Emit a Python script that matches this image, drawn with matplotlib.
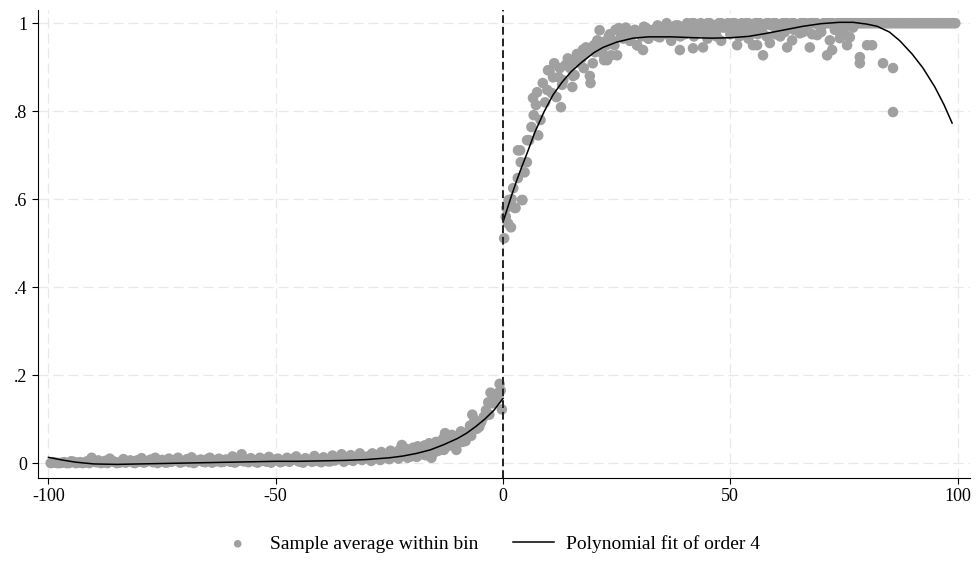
import numpy as np
import matplotlib
matplotlib.use("Agg")
import matplotlib.pyplot as plt

plt.rcParams["font.family"] = ["Liberation Serif", "DejaVu Serif"]

# binned sample averages, left of cutoff (1-unit bins, two offsets)
left_x = np.arange(-99.5, -30, 1.0)
left_y = [0.000, 0.001, 0.000, 0.002, 0.000, 0.003, 0.001, 0.000, 0.004, 0.012,
          0.002, 0.000, 0.005, 0.010, 0.003, 0.001, 0.009, 0.004, 0.002, 0.006,
          0.011, 0.003, 0.008, 0.012, 0.004, 0.002, 0.010, 0.005, 0.012, 0.003,
          0.009, 0.013, 0.004, 0.008, 0.002, 0.012, 0.006, 0.010, 0.003, 0.007,
          0.015, 0.004, 0.020, 0.006, 0.011, 0.003, 0.012, 0.008, 0.014, 0.005,
          0.010, 0.004, 0.012, 0.007, 0.015, 0.003, 0.011, 0.006, 0.016, 0.008,
          0.013, 0.004, 0.017, 0.009, 0.020, 0.007, 0.018, 0.010, 0.022, 0.012]
left2_x = np.arange(-99.0, -30, 1.0)
left2_y = [0.002, 0.000, 0.001, 0.000, 0.004, 0.000, 0.002, 0.001, 0.000, 0.003,
           0.006, 0.001, 0.000, 0.004, 0.000, 0.002, 0.001, 0.006, 0.000, 0.003,
           0.001, 0.005, 0.002, 0.000, 0.007, 0.001, 0.003, 0.008, 0.001, 0.005,
           0.002, 0.000, 0.006, 0.003, 0.009, 0.001, 0.004, 0.002, 0.008, 0.003,
           0.001, 0.006, 0.004, 0.002, 0.007, 0.001, 0.005, 0.003, 0.001, 0.008,
           0.002, 0.006, 0.003, 0.010, 0.004, 0.001, 0.007, 0.003, 0.005, 0.002,
           0.009, 0.004, 0.006, 0.012, 0.003, 0.008, 0.005, 0.014, 0.007]

# left of cutoff, close to it (0.5-unit bins)
near_left_x = np.arange(-29.75, 0, 0.5)
near_left_y = [0.015, 0.008, 0.022, 0.012, 0.018, 0.010, 0.025, 0.014, 0.020, 0.011,
               0.028, 0.016, 0.022, 0.013, 0.030, 0.041, 0.018, 0.032, 0.025, 0.015,
               0.035, 0.022, 0.038, 0.028, 0.020, 0.040, 0.030, 0.045, 0.012, 0.035,
               0.048, 0.028, 0.042, 0.055, 0.068, 0.038, 0.060, 0.064, 0.045, 0.030,
               0.058, 0.072, 0.065, 0.050, 0.070, 0.085, 0.110, 0.098, 0.078, 0.082,
               0.095, 0.105, 0.120, 0.138, 0.160, 0.136, 0.150, 0.145, 0.180, 0.122]
near_left2_x = [-29.0, -27.0, -25.0, -23.0, -21.0, -19.0, -17.0, -15.0, -13.0, -11.0,
                -9.0, -7.0, -5.0, -3.0, -1.0, -0.5]
near_left2_y = [0.005, 0.007, 0.009, 0.010, 0.012, 0.014, 0.018, 0.025, 0.030, 0.040,
                0.048, 0.062, 0.090, 0.110, 0.160, 0.165]

# right of cutoff, rising part (0.5-unit bins)
rise_x = np.arange(0.25, 25, 0.5)
rise_y = [0.511, 0.580, 0.598, 0.536, 0.625, 0.580, 0.648, 0.711, 0.598, 0.661,
          0.684, 0.734, 0.764, 0.791, 0.814, 0.745, 0.780, 0.864, 0.820, 0.848,
          0.893, 0.841, 0.909, 0.832, 0.877, 0.809, 0.870, 0.905, 0.920, 0.898,
          0.855, 0.882, 0.930, 0.910, 0.920, 0.898, 0.945, 0.943, 0.864, 0.909,
          0.934, 0.961, 0.984, 0.957, 0.916, 0.950, 0.970, 0.927, 0.960, 0.985]
rise_extra_x = [1.1, 2.6, 3.3, 4.2, 5.3, 6.6, 7.5, 9.9, 11.0, 12.5, 13.0, 15.4,
                17.6, 19.1, 22.0, 22.9, 25.1, 0.6, 1.9, 3.9, 16.0, 18.0, 20.0, 21.0,
                23.5, 24.5]
rise_extra_y = [0.545, 0.580, 0.711, 0.598, 0.734, 0.830, 0.843, 0.893, 0.877, 0.898,
                0.860, 0.880, 0.940, 0.880, 0.930, 0.916, 0.927, 0.560, 0.600, 0.684,
                0.915, 0.930, 0.950, 0.940, 0.975, 0.950]

# right of cutoff, plateau (1-unit bins, two offsets)
plateau_x = np.arange(25.5, 100, 1.0)
plateau_y = [0.989, 0.965, 0.984, 0.975, 0.950, 0.970, 0.989, 0.975, 0.980, 0.968,
             0.990, 0.989, 0.975, 0.995, 0.985, 1.000, 1.000, 0.990, 1.000, 0.985,
             1.000, 0.995, 1.000, 0.990, 1.000, 1.000, 0.985, 1.000, 1.000, 0.990,
             1.000, 1.000, 0.995, 1.000, 1.000, 0.990, 1.000, 1.000, 1.000, 0.995,
             1.000, 1.000, 1.000, 1.000, 0.995, 1.000, 1.000, 1.000, 1.000, 1.000,
             1.000, 1.000, 1.000, 1.000, 1.000, 1.000, 1.000, 1.000, 1.000, 1.000,
             1.000, 1.000, 1.000, 1.000, 1.000, 1.000, 1.000, 1.000, 1.000, 1.000,
             1.000, 1.000, 1.000, 1.000, 1.000]
plateau2_x = np.arange(26.0, 100, 1.0)
plateau2_y = [0.975, 0.990, 0.960, 0.985, 0.978, 0.992, 0.965, 0.985, 0.995, 0.978,
              1.000, 0.985, 0.995, 0.978, 0.992, 0.985, 1.000, 0.990, 0.980, 1.000,
              0.992, 0.985, 1.000, 0.995, 0.988, 1.000, 0.990, 0.995, 1.000, 0.985,
              1.000, 0.992, 1.000, 0.995, 1.000, 0.988, 1.000, 0.995, 1.000, 0.990,
              1.000, 0.995, 1.000, 1.000, 0.992, 1.000, 1.000, 0.995, 1.000, 1.000,
              1.000, 1.000, 1.000, 1.000, 1.000, 1.000, 1.000, 1.000, 1.000, 1.000,
              1.000, 1.000, 1.000, 1.000, 1.000, 1.000, 1.000, 1.000, 1.000, 1.000,
              1.000, 1.000, 1.000, 1.000]
plateau_low_x = [26, 28, 30, 32, 34, 36, 37, 39, 40, 42, 43, 45, 46, 47, 48, 50,
                 52, 53, 54, 56, 57, 58, 60, 61, 62, 64, 66, 68, 70, 73, 75, 77]
plateau_low_y = [0.970, 0.960, 0.975, 0.965, 0.970, 0.975, 0.960, 0.970, 0.975, 0.970,
                 0.980, 0.965, 0.975, 0.970, 0.960, 0.975, 0.970, 0.980, 0.965, 0.975,
                 0.980, 0.970, 0.975, 0.970, 0.980, 0.985, 0.980, 0.975, 0.980, 0.985,
                 0.980, 0.990]
outlier_x = [38.9, 41.8, 44.0, 30.8, 29.5, 51.5, 55.0, 55.9, 57.2, 58.7, 62.5, 63.6,
             65.3, 67.5, 69.1, 71.3, 72.4, 71.9, 74.1, 75.7, 76.3, 78.5, 78.5, 80.1,
             81.2, 83.6, 85.8, 85.8]
outlier_y = [0.939, 0.943, 0.945, 0.939, 0.950, 0.950, 0.950, 0.950, 0.927, 0.955,
             0.945, 0.961, 0.977, 0.945, 0.973, 0.927, 0.939, 0.961, 0.966, 0.950,
             0.968, 0.923, 0.909, 0.950, 0.950, 0.909, 0.898, 0.798]

# polynomial fit (order 4)
fit_left_x = [-100, -97, -94, -90, -85, -80, -75, -70, -65, -60, -55, -50, -45,
              -40, -35, -30, -25, -22, -19, -16, -13, -10, -8, -6, -4, -2, 0]
fit_left_y = [0.013, 0.007, 0.002, -0.002, -0.003, -0.002, -0.001, 0.000, 0.001,
              0.002, 0.003, 0.004, 0.004, 0.005, 0.006, 0.008, 0.012, 0.016, 0.022,
              0.030, 0.042, 0.056, 0.068, 0.083, 0.100, 0.120, 0.147]
fit_right_x = [0, 1, 2, 3, 4, 5.5, 7, 9, 11, 13, 15, 17.4, 20, 22, 25, 28.6, 32, 37,
               42, 46, 50, 54, 58, 62, 66, 70, 74, 77, 80, 82.3, 85, 87.3, 90, 92.4,
               95, 97, 98.8]
fit_right_y = [0.548, 0.580, 0.612, 0.642, 0.670, 0.710, 0.752, 0.798, 0.837, 0.866,
               0.890, 0.912, 0.933, 0.945, 0.957, 0.966, 0.969, 0.969, 0.967, 0.966,
               0.967, 0.970, 0.977, 0.985, 0.993, 0.999, 1.002, 1.002, 0.998, 0.993,
               0.980, 0.960, 0.930, 0.898, 0.855, 0.815, 0.773]

x_ticks = [-100, -50, 0, 50, 100]
x_labels = ["-100", "-50", "0", "50", "100"]
y_ticks = [0, 0.2, 0.4, 0.6, 0.8, 1.0]
y_labels = ["0", ".2", ".4", ".6", ".8", "1"]

GRAY = "#a0a0a0"

fig = plt.figure(figsize=(9.77, 5.72), dpi=100)
ax = fig.add_axes([0.0389, 0.1643, 0.9540, 0.8182])

for xs, ys in [(left_x, left_y), (left2_x, left2_y), (near_left_x, near_left_y),
               (near_left2_x, near_left2_y), (rise_x, rise_y),
               (rise_extra_x, rise_extra_y), (plateau_x, plateau_y),
               (plateau2_x, plateau2_y), (plateau_low_x, plateau_low_y),
               (outlier_x, outlier_y)]:
    ax.scatter(xs, ys, s=58, color=GRAY, edgecolors="none", zorder=2)

ax.plot(fit_left_x, fit_left_y, color="black", lw=1.1, zorder=3)
ax.plot(fit_right_x, fit_right_y, color="black", lw=1.1, zorder=3)
ax.axvline(0, color="#222222", lw=1.4, linestyle=(0, (4, 2)), zorder=4)

ax.set_xlim(-102.3, 102.75)
ax.set_ylim(-0.034, 1.03)
ax.set_xticks(x_ticks)
ax.set_xticklabels(x_labels)
ax.set_yticks(y_ticks)
ax.set_yticklabels(y_labels)
ax.tick_params(direction="out", length=4, width=0.8, labelsize=13, colors="black")
ax.grid(True, color="#e8e8e8", lw=0.9, linestyle=(0, (8, 4)), zorder=0)
for side in ["top", "right"]:
    ax.spines[side].set_visible(False)
for side in ["left", "bottom"]:
    ax.spines[side].set_linewidth(0.8)

h1 = ax.scatter([], [], s=30, color=GRAY, edgecolors="none")
h2, = ax.plot([], [], color="black", lw=1.1)
fig.legend([h1, h2], ["Sample average within bin", "Polynomial fit of order 4"],
           loc="center", bbox_to_anchor=(0.5, 0.049), ncol=2, frameon=False,
           fontsize=14, handlelength=2.1, columnspacing=1.8, handletextpad=0.6)

fig.savefig("out.png", dpi=100)
